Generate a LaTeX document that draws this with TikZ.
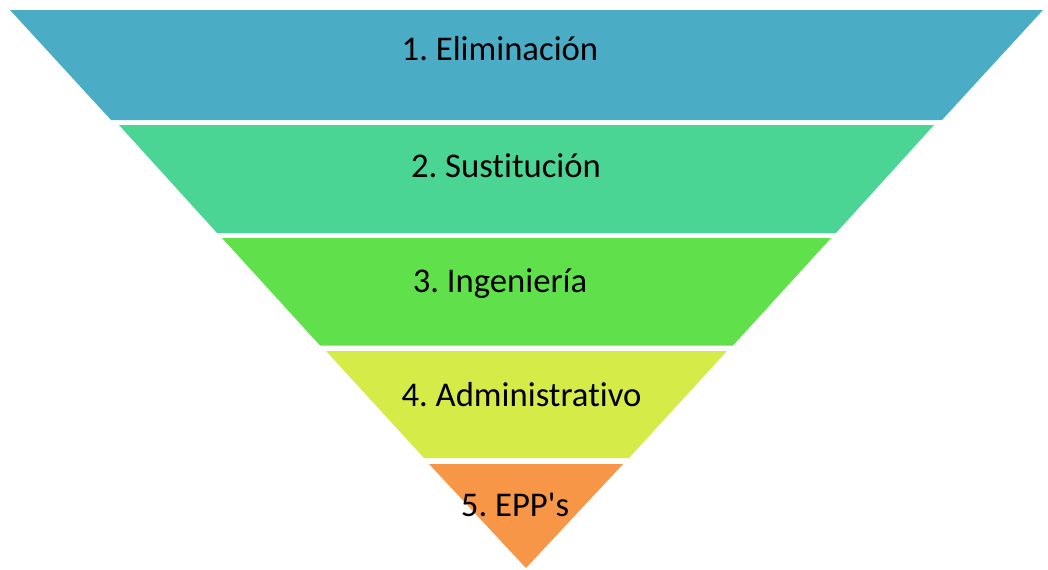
\documentclass[tikz,border=0pt]{standalone}
\usepackage{fontspec}
\setmainfont{Carlito}[Ligatures={NoCommon}]
\frenchspacing
\definecolor{cA}{RGB}{75,172,198}
\definecolor{cB}{RGB}{74,213,148}
\definecolor{cC}{RGB}{96,224,74}
\definecolor{cD}{RGB}{212,235,72}
\definecolor{cE}{RGB}{247,150,70}
\tikzset{band/.style={draw=none}, lab/.style={anchor=base, inner sep=0pt, font=\fontsize{26}{30}\selectfont, text=black}}
\begin{document}
\begin{tikzpicture}[x=0.75pt,y=-0.75pt]
\useasboundingbox (0,0) rectangle (1048,569);
\fill[band,cA] (10,10) -- (1043,10) -- (942,120) -- (111,120) -- cycle;
\fill[band,cB] (119,125) -- (934,125) -- (836,233) -- (217,233) -- cycle;
\fill[band,cC] (222,238) -- (831,238) -- (733,345.5) -- (320,345.5) -- cycle;
\fill[band,cD] (326,351) -- (727,351) -- (629,458) -- (424,458) -- cycle;
\fill[band,cE] (429,464) -- (623,464) -- (526,568) -- cycle;
\node[lab] (t1) at (500,60) {1. Eliminación};
\node[lab] (t2) at (506,177) {2. Sustitución};
\node[lab] (t3) at (500,292) {3. Ingeniería};
\node[lab] (t4) at (521.5,406) {4. Administrativo};
\node[lab] (t5) at (515,516) {5. EPP\textquotesingle s};
\end{tikzpicture}
\end{document}
